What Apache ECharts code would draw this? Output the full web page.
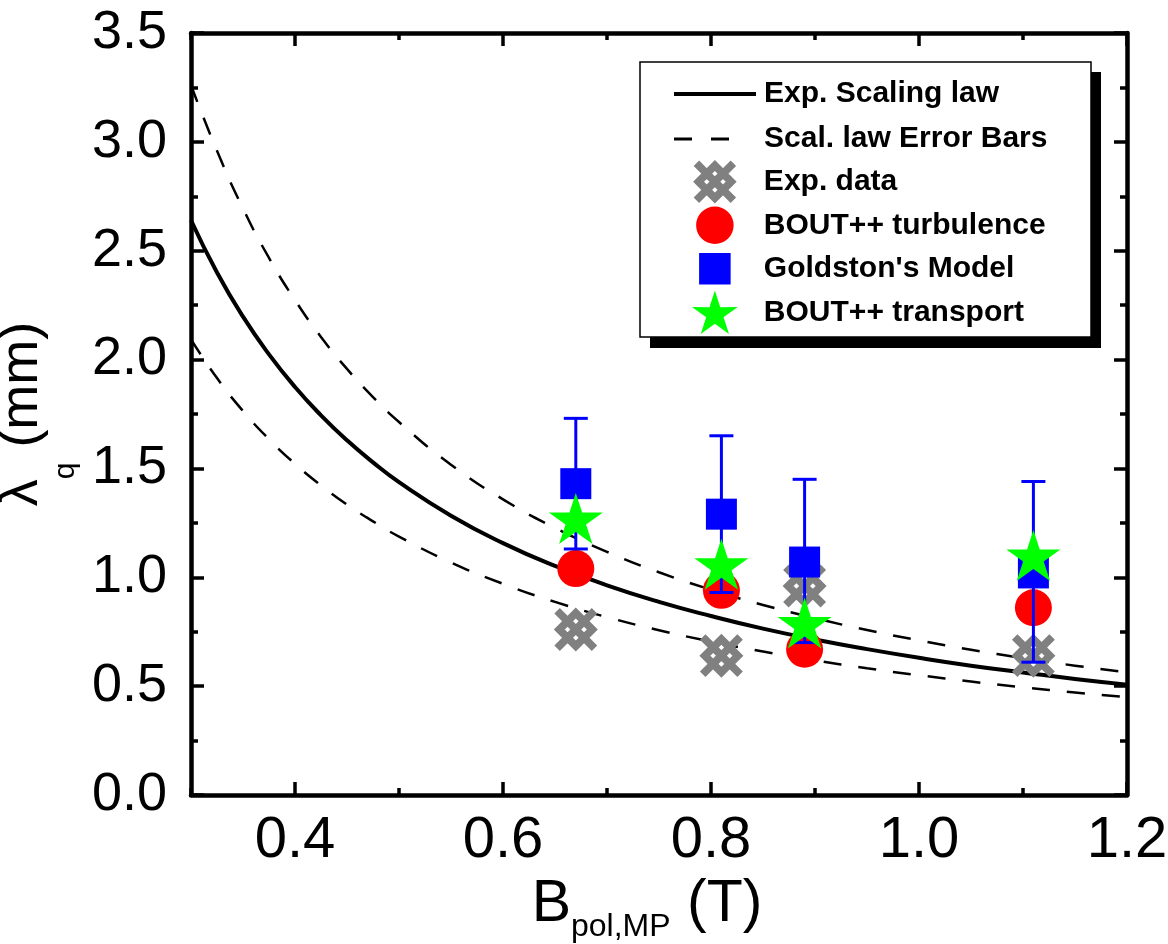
<!DOCTYPE html>
<html><head><meta charset="utf-8">
<script src="https://cdn.jsdelivr.net/npm/echarts@6/dist/echarts.min.js"></script>
<style>html,body{margin:0;padding:0;background:#fff;} #c{width:1168px;height:944px;}</style>
</head><body><div id="c"></div>
<script>
// ---- data ----
const bPol = [0.67, 0.81, 0.89, 1.11];
const expData = [0.76, 0.64, 0.96, 0.64];
const boutTurbulence = [1.04, 0.94, 0.67, 0.86];
const goldston = [1.43, 1.29, 1.07, 1.02];
const goldstonLow = [1.13, 0.93, 0.70, 0.61];
const goldstonHigh = [1.73, 1.65, 1.45, 1.44];
const boutTransport = [1.27, 1.06, 0.79, 1.10];

const curveB = [0.3, 0.325, 0.35, 0.375, 0.4, 0.425, 0.45, 0.475, 0.5, 0.55, 0.6, 0.65, 0.7, 0.75, 0.8, 0.85, 0.9, 0.95, 1.0, 1.05, 1.1, 1.15, 1.2];
const scalingLaw = [2.640, 2.400, 2.197, 2.024, 1.874, 1.744, 1.629, 1.528, 1.437, 1.283, 1.157, 1.052, 0.963, 0.887, 0.822, 0.764, 0.714, 0.670, 0.630, 0.594, 0.563, 0.533, 0.507];
const scalingUpper = [3.260, 2.959, 2.694, 2.467, 2.273, 2.104, 1.957, 1.828, 1.713, 1.517, 1.358, 1.227, 1.117, 1.023, 0.943, 0.873, 0.812, 0.758, 0.710, 0.667, 0.629, 0.594, 0.563];
const scalingLower = [2.093, 1.915, 1.764, 1.634, 1.521, 1.422, 1.334, 1.257, 1.187, 1.068, 0.970, 0.887, 0.817, 0.757, 0.705, 0.659, 0.618, 0.582, 0.550, 0.521, 0.495, 0.471, 0.449];

const xMajorTicks = [0.4, 0.6, 0.8, 1.0, 1.2];
const xMinorTicks = [0.3, 0.5, 0.7, 0.9, 1.1];

const legendNames = ['Exp. Scaling law', 'Scal. law Error Bars', 'Exp. data', 'BOUT++ turbulence', "Goldston's Model", 'BOUT++ transport'];

// ---- styling helpers ----
const FONT = "'Liberation Sans', Arial, sans-serif";
const AXW = 4.5, TKW = 3.5;

function starPath() {
  let p = '';
  for (let k = 0; k < 10; k++) {
    const r = k % 2 ? 19 : 50;
    const a = -Math.PI / 2 + k * Math.PI / 5;
    p += (k ? 'L' : 'M') + (50 + r * Math.cos(a)).toFixed(2) + ' ' + (50 + r * Math.sin(a)).toFixed(2) + ' ';
  }
  return 'path://' + p + 'Z';
}
function crossPath() {
  const s2 = Math.SQRT1_2, D = 30, w = 10, L0 = 68, L1 = 40, C = 70;
  function strip(cx, cy, ax, ay, L) {
    const nx = -ay, ny = ax;
    const pts = [
      [cx - ax * L - nx * w, cy - ay * L - ny * w],
      [cx + ax * L - nx * w, cy + ay * L - ny * w],
      [cx + ax * L + nx * w, cy + ay * L + ny * w],
      [cx - ax * L + nx * w, cy - ay * L + ny * w]
    ];
    return pts.map((q, i) => (i ? 'L' : 'M') + (C + q[0]).toFixed(2) + ' ' + (C + q[1]).toFixed(2)).join(' ') + ' Z ';
  }
  let p = '';
  const dirs = [[s2, s2], [s2, -s2]];
  dirs.forEach(([ax, ay]) => {
    const nx = -ay, ny = ax;
    [-D, 0, D].forEach(t => { p += strip(t * nx, t * ny, ax, ay, t === 0 ? L0 : L1); });
  });
  return 'path://' + p;
}
// invisible zero-area anchors enlarge the icon box so the visible shape is smaller in the legend
function padded(body, lo, hi) {
  return 'path://M' + lo + ' ' + lo + ' L' + lo + ' ' + lo + ' Z M' + hi + ' ' + hi + ' L' + hi + ' ' + hi + ' Z ' + body;
}
const legendSquare = padded('M0 0 L10 0 L10 10 L0 10 Z', -1.9, 11.9);
const legendCircle = padded('M0 5 A5 5 0 1 0 10 5 A5 5 0 1 0 0 5 Z', -0.8, 10.8);

function xAxisDef(pos, ticks, len, withLine, withLabel) {
  const ax = {
    type: 'value', position: pos, min: 0.3, max: 1.2, interval: 0.1,
    axisLine: { show: withLine, onZero: false, lineStyle: { color: '#000', width: AXW } },
    axisTick: { show: true, inside: true, length: len, customValues: ticks, lineStyle: { color: '#000', width: TKW } },
    axisLabel: { show: false },
    splitLine: { show: false }
  };
  if (withLabel) {
    ax.axisLabel = { show: true, customValues: xMajorTicks, formatter: v => v.toFixed(1), color: '#000', fontSize: 58, fontFamily: FONT, margin: 17 };
    ax.name = '{a|B}{s|pol,MP}{a| (T)}';
    ax.nameLocation = 'middle';
    ax.nameGap = 52;
    ax.nameTextStyle = { color: '#000', fontFamily: FONT, padding: [0, 24, 0, 0],
      rich: { a: { fontSize: 59, fontFamily: FONT, color: '#000' }, s: { fontSize: 32, fontFamily: FONT, color: '#000', padding: [46, 0, 0, 0] } } };
  }
  return ax;
}
function yAxisDef(pos, withLabel) {
  const ax = {
    type: 'value', position: pos, min: 0, max: 3.5, interval: 0.5,
    axisLine: { show: true, onZero: false, lineStyle: { color: '#000', width: AXW } },
    axisTick: { show: true, inside: true, length: 13, lineStyle: { color: '#000', width: TKW } },
    minorTick: { show: true, splitNumber: 2, length: 7, lineStyle: { color: '#000', width: TKW } },
    axisLabel: { show: false },
    splitLine: { show: false }
  };
  if (withLabel) {
    ax.axisLabel = { show: true, formatter: v => v.toFixed(1), color: '#000', fontSize: 54, fontFamily: FONT, margin: 24 };
    ax.name = '{a|λ}{s|q}{a| (mm)}';
    ax.nameLocation = 'middle';
    ax.nameGap = 76;
    ax.nameTextStyle = { color: '#000', fontFamily: FONT,
      rich: { a: { fontSize: 54, fontFamily: FONT, color: '#000' }, s: { fontSize: 30, fontFamily: FONT, color: '#000', padding: [87, 0, 0, 0] } } };
  }
  return ax;
}

const pairs = (xs, ys) => xs.map((x, i) => [x, ys[i]]);
const legendText = { color: '#000', fontSize: 30, fontWeight: 'bold', fontFamily: FONT, padding: [0, 0, 0, 3] };

const option = {
  animation: false,
  backgroundColor: '#fff',
  grid: { left: 191, right: 41, top: 33, bottom: 149, containLabel: false, outerBoundsMode: 'none' },
  xAxis: [
    xAxisDef('bottom', xMinorTicks, 7, true, true),
    xAxisDef('bottom', xMajorTicks, 13, false, false),
    xAxisDef('top', xMinorTicks, 7, true, false),
    xAxisDef('top', xMajorTicks, 13, false, false)
  ],
  yAxis: [yAxisDef('left', true), yAxisDef('right', false)],
  graphic: [
    { type: 'rect', z: 1, shape: { x: 650, y: 72, width: 451, height: 276 }, style: { fill: '#000' } },
    { type: 'rect', z: 1, shape: { x: 640, y: 62, width: 451, height: 275 }, style: { fill: '#fff', stroke: '#000', lineWidth: 1.5 } }
  ],
  legend: [
    {
      orient: 'vertical', left: 667, top: 71.5, z: 10,
      itemWidth: 82, itemHeight: 44, itemGap: 9.8,
      textStyle: legendText,
      data: [
        { name: legendNames[0], itemStyle: { opacity: 0 }, lineStyle: { width: 4 } },
        { name: legendNames[1], itemStyle: { opacity: 0 }, lineStyle: { width: 3, type: [18, 19, 18, 200] } }
      ]
    },
    {
      orient: 'vertical', left: 687, top: 155, z: 10,
      itemWidth: 82, itemHeight: 43.5, itemGap: 0,
      textStyle: legendText,
      data: [
        { name: legendNames[2] },
        { name: legendNames[3], icon: legendCircle },
        { name: legendNames[4], icon: legendSquare },
        { name: legendNames[5] }
      ]
    }
  ],
  series: [
    { name: legendNames[0], type: 'line', smooth: true, symbol: 'none', z: 2, data: pairs(curveB, scalingLaw),
      lineStyle: { color: '#000', width: 4 }, itemStyle: { color: '#000' } },
    { name: legendNames[1], type: 'line', smooth: true, symbol: 'none', z: 2, data: pairs(curveB, scalingUpper),
      lineStyle: { color: '#000', width: 2.5, type: [18, 17] }, itemStyle: { color: '#000' } },
    { name: legendNames[1], type: 'line', smooth: true, symbol: 'none', z: 2, data: pairs(curveB, scalingLower),
      lineStyle: { color: '#000', width: 2.5, type: [18, 17] }, itemStyle: { color: '#000' } },
    { name: legendNames[2], type: 'scatter', z: 3, symbol: crossPath(), symbolSize: 44, data: pairs(bPol, expData),
      itemStyle: { color: '#808080', opacity: 1 } },
    { name: legendNames[3], type: 'scatter', z: 4, symbol: 'circle', symbolSize: 37, data: pairs(bPol, boutTurbulence),
      itemStyle: { color: '#ff0000', opacity: 1 } },
    { name: legendNames[4], type: 'scatter', z: 6, symbol: 'rect', symbolSize: 31, data: pairs(bPol, goldston),
      itemStyle: { color: '#0000ff', opacity: 1 } },
    { name: legendNames[4], type: 'custom', z: 5,
      data: bPol.map((x, i) => [x, goldstonLow[i], goldstonHigh[i]]),
      encode: { x: 0, y: [1, 2] },
      renderItem: function (params, api) {
        const x = api.value(0);
        const pLo = api.coord([x, api.value(1)]);
        const pHi = api.coord([x, api.value(2)]);
        const cap = 12;
        const st = { stroke: '#0000ff', lineWidth: 3 };
        return { type: 'group', children: [
          { type: 'line', shape: { x1: pHi[0], y1: pHi[1], x2: pLo[0], y2: pLo[1] }, style: st },
          { type: 'line', shape: { x1: pHi[0] - cap, y1: pHi[1], x2: pHi[0] + cap, y2: pHi[1] }, style: st },
          { type: 'line', shape: { x1: pLo[0] - cap, y1: pLo[1], x2: pLo[0] + cap, y2: pLo[1] }, style: st }
        ] };
      }
    },
    { name: legendNames[5], type: 'scatter', z: 7, symbol: starPath(), symbolSize: [54, 51], data: pairs(bPol, boutTransport),
      itemStyle: { color: '#00ff00', opacity: 1 } }
  ]
};

const chart = echarts.init(document.getElementById('c'), null, { renderer: 'canvas' });
chart.setOption(option);
</script>
</body></html>
